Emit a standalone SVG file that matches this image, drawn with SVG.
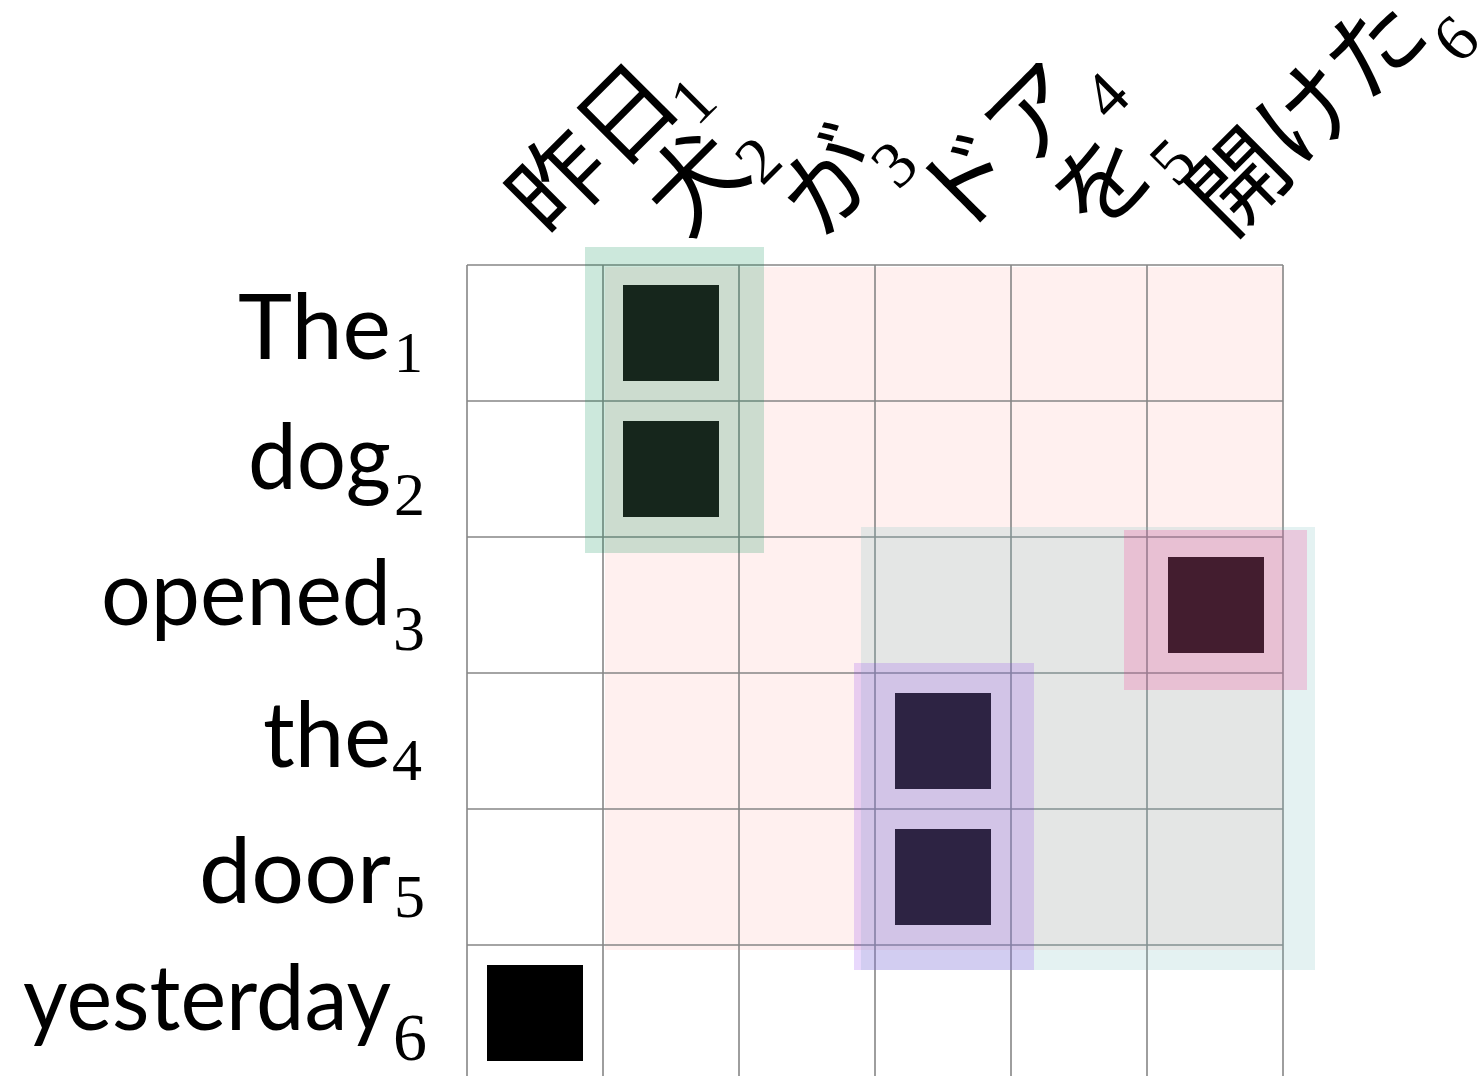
<svg xmlns="http://www.w3.org/2000/svg" width="1484" height="1076" viewBox="0 0 1484 1076">
  <style>
    .lbl { font-family: Lato, "Noto Sans", sans-serif; font-size: 92px; fill: #000; }
    .jp { font-family: "Noto Sans CJK JP", "Noto Sans CJK SC", sans-serif; font-size: 96px; fill: #000; }
    .sub { font-family: "Liberation Serif", "DejaVu Serif", serif; }
    .jsub { font-family: "Liberation Serif", "DejaVu Serif", serif; font-size: 66px; }
    .grid line { stroke: #868686; stroke-width: 1.6; }
    .sq { stroke: none; }
  </style>
  <rect width="1484" height="1076" fill="#ffffff"/>

  <g id="region-pink">
    <rect x="605" y="267" width="678" height="683" fill="#fff0ef"/>
  </g>

  <g id="grid" class="grid">
    <line x1="467" y1="265" x2="467" y2="1076"/>
    <line x1="603" y1="265" x2="603" y2="1076"/>
    <line x1="739" y1="265" x2="739" y2="1076"/>
    <line x1="875" y1="265" x2="875" y2="1076"/>
    <line x1="1011" y1="265" x2="1011" y2="1076"/>
    <line x1="1147" y1="265" x2="1147" y2="1076"/>
    <line x1="1283" y1="265" x2="1283" y2="1076"/>
    <line x1="467" y1="265" x2="1283" y2="265"/>
    <line x1="467" y1="401" x2="1283" y2="401"/>
    <line x1="467" y1="537" x2="1283" y2="537"/>
    <line x1="467" y1="673" x2="1283" y2="673"/>
    <line x1="467" y1="809" x2="1283" y2="809"/>
    <line x1="467" y1="945" x2="1283" y2="945"/>
  </g>

  <g id="region-teal">
    <rect x="861" y="527" width="454" height="443" fill="rgb(120,190,190)" fill-opacity="0.2"/>
  </g>
  <g id="region-green">
    <rect x="585" y="247" width="179" height="306" fill="rgb(0,140,80)" fill-opacity="0.2"/>
  </g>
  <g id="region-purple">
    <rect x="854" y="663" width="180" height="307" fill="rgb(140,60,240)" fill-opacity="0.2"/>
  </g>
  <g id="region-magenta">
    <rect x="1124" y="530" width="183" height="160" fill="rgb(250,40,140)" fill-opacity="0.2"/>
  </g>

  <g id="cells">
    <rect id="cell-1-2" class="sq" x="623" y="285" width="96" height="96" fill="#16261c"/>
    <rect id="cell-2-2" class="sq" x="623" y="421" width="96" height="96" fill="#16261c"/>
    <rect id="cell-3-6" class="sq" x="1168" y="557" width="96" height="96" fill="#431d2f"/>
    <rect id="cell-4-4" class="sq" x="895" y="693" width="96" height="96" fill="#2d2343"/>
    <rect id="cell-5-4" class="sq" x="895" y="829" width="96" height="96" fill="#2d2343"/>
    <rect id="cell-6-1" class="sq" x="487" y="965" width="96" height="96" fill="#000000"/>
  </g>

  <g id="row-labels">
    <g id="row-1"><text class="lbl" y="359"><tspan x="238" textLength="153" lengthAdjust="spacingAndGlyphs">The</tspan><tspan class="sub" font-size="58" dx="3" dy="13">1</tspan></text></g>
    <g id="row-2"><text class="lbl" y="489"><tspan x="248" textLength="143" lengthAdjust="spacingAndGlyphs">dog</tspan><tspan class="sub" font-size="62" dx="3" dy="26">2</tspan></text></g>
    <g id="row-3"><text class="lbl" y="625"><tspan x="101" textLength="290" lengthAdjust="spacingAndGlyphs">opened</tspan><tspan class="sub" font-size="64" dx="2" dy="25">3</tspan></text></g>
    <g id="row-4"><text class="lbl" y="767"><tspan x="263" textLength="128" lengthAdjust="spacingAndGlyphs">the</tspan><tspan class="sub" font-size="60" dx="1" dy="13">4</tspan></text></g>
    <g id="row-5"><text class="lbl" y="903"><tspan x="199" textLength="192" lengthAdjust="spacingAndGlyphs">door</tspan><tspan class="sub" font-size="62" dx="3" dy="14">5</tspan></text></g>
    <g id="row-6"><text class="lbl" y="1030"><tspan x="23" textLength="368" lengthAdjust="spacingAndGlyphs">yesterday</tspan><tspan class="sub" font-size="68" dx="2" dy="30">6</tspan></text></g>
  </g>

  <g id="col-labels">
    <g id="col-1"><text class="jp" transform="translate(549,240) rotate(-45)">昨日<tspan class="jsub" dx="-8" dy="25">1</tspan></text></g>
    <g id="col-2"><text class="jp" transform="translate(685,240) rotate(-45)">犬<tspan class="jsub" dx="-4" dy="17">2</tspan></text></g>
    <g id="col-3"><text class="jp" transform="translate(821,240) rotate(-45)">が<tspan class="jsub" dx="-7" dy="20">3</tspan></text></g>
    <g id="col-4"><text class="jp" transform="translate(957,240) rotate(-45)">ドア<tspan class="jsub" dx="-1" dy="25">4</tspan></text></g>
    <g id="col-5"><text class="jp" transform="translate(1093,240) rotate(-45)">を<tspan class="jsub" dx="-1" dy="23">5</tspan></text></g>
    <g id="col-6"><text class="jp" transform="translate(1229,240) rotate(-45)">開けた<tspan class="jsub" dx="-2" dy="40">6</tspan></text></g>
  </g>
</svg>
